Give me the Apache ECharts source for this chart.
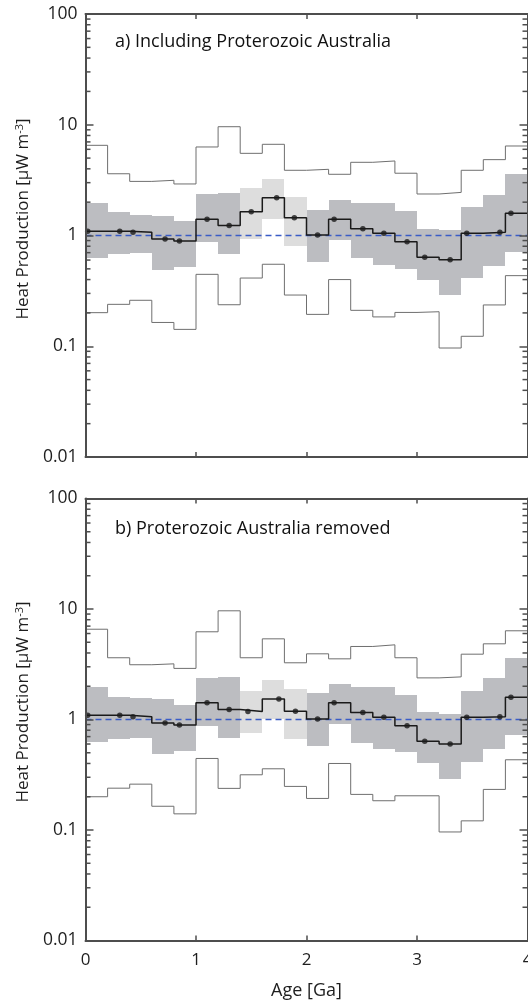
<!DOCTYPE html>
<html>
<head>
<meta charset="utf-8">
<script src="https://cdn.jsdelivr.net/npm/echarts@6/dist/echarts.min.js"></script>
<style>
  html, body { margin: 0; padding: 0; background: #fff; }
  #chart { width: 528px; height: 1005px; }
</style>
</head>
<body>
<div id="chart"></div>
<script>
// Age bins (Ga) shared by both panels
const binEdges = [0.0, 0.2, 0.4, 0.6, 0.8, 1.0, 1.2, 1.4, 1.6, 1.8, 2.0,
                  2.2, 2.4, 2.6, 2.8, 3.0, 3.2, 3.4, 3.6, 3.8, 4.0];

// Bins whose spread is shaded in the lighter grey
const lightBins = [0, 0, 0, 0, 0, 0, 0, 1, 1, 1, 0, 0, 0, 0, 0, 0, 0, 0, 0, 0];

// Panel a) Including Proterozoic Australia
const medianAgeA = [0.02, 0.31, 0.43, 0.72, 0.85, 1.10, 1.30, 1.50, 1.73, 1.89,
                    2.10, 2.25, 2.51, 2.70, 2.91, 3.07, 3.30, 3.45, 3.75, 3.85];
const medianA = [1.09, 1.09, 1.07, 0.93, 0.89, 1.40, 1.23, 1.64, 2.19, 1.45,
                 1.01, 1.40, 1.15, 1.05, 0.88, 0.635, 0.605, 1.05, 1.07, 1.59];
const q75A = [1.98, 1.62, 1.53, 1.51, 1.34, 2.36, 2.40, 2.67, 3.24, 2.23,
              1.70, 2.09, 1.97, 1.97, 1.65, 1.15, 1.11, 1.81, 2.32, 3.61];
const q25A = [0.626, 0.676, 0.69, 0.49, 0.52, 0.87, 0.685, 0.935, 1.41, 0.81,
              0.58, 0.91, 0.62, 0.54, 0.50, 0.40, 0.288, 0.413, 0.534, 0.71];
const upperA = [6.52, 3.61, 3.08, 3.15, 2.92, 6.30, 9.6, 5.52, 6.66, 3.88,
                3.96, 3.57, 4.58, 4.71, 3.65, 2.37, 2.45, 3.88, 4.84, 6.43];
const lowerA = [0.201, 0.239, 0.26, 0.164, 0.142, 0.446, 0.237, 0.413, 0.55, 0.29,
                0.194, 0.40, 0.211, 0.184, 0.202, 0.205, 0.0964, 0.123, 0.236, 0.434];

// Panel b) Proterozoic Australia removed
const medianAgeB = [0.02, 0.31, 0.43, 0.72, 0.85, 1.10, 1.30, 1.47, 1.75, 1.90,
                    2.10, 2.25, 2.51, 2.70, 2.91, 3.07, 3.30, 3.45, 3.75, 3.85];
const medianB = [1.09, 1.09, 1.06, 0.93, 0.89, 1.42, 1.23, 1.18, 1.53, 1.19,
                 1.01, 1.42, 1.16, 1.05, 0.88, 0.637, 0.60, 1.05, 1.06, 1.59];
const q75B = [1.98, 1.61, 1.55, 1.52, 1.34, 2.35, 2.40, 1.80, 2.27, 1.88,
              1.72, 2.10, 1.96, 1.96, 1.65, 1.16, 1.11, 1.82, 2.35, 3.62];
const q25B = [0.628, 0.668, 0.687, 0.489, 0.524, 0.87, 0.687, 0.752, 1.01, 0.664,
              0.574, 0.907, 0.615, 0.539, 0.503, 0.40, 0.288, 0.411, 0.539, 0.717];
const upperB = [6.56, 3.62, 3.13, 3.19, 2.90, 6.22, 9.63, 3.62, 5.37, 3.26,
                3.93, 3.54, 4.58, 4.74, 3.62, 2.38, 2.43, 3.90, 4.84, 6.35];
const lowerB = [0.20, 0.239, 0.26, 0.164, 0.14, 0.444, 0.238, 0.316, 0.358, 0.248,
                0.193, 0.40, 0.21, 0.184, 0.204, 0.204, 0.096, 0.121, 0.233, 0.432];

// Axis ticks
const xTicks = [0, 1, 2, 3, 4];
const yMin = 0.01, yMax = 100;
const referenceLevel = 1;

const FONT = '"Open Sans", "Noto Sans", sans-serif';
const AXIS_COLOR = '#4d4d4d';
const TEXT_COLOR = '#1e1e1e';
const DARK_BAND = '#bcbdc1';
const LIGHT_BAND = '#dddddd';
const THIN_LINE = '#6f6f6f';
const DASH_BLUE = '#3a5cc6';

// log minor ticks (2..9 in each decade)
const minorTickValues = [];
for (let e = -2; e < 2; e++) {
  for (let m = 2; m <= 9; m++) minorTickValues.push([0, m * Math.pow(10, e)]);
}

function stepData(values) {
  const pts = values.map((v, i) => [binEdges[i], v]);
  pts.push([binEdges[binEdges.length - 1], values[values.length - 1]]);
  return pts;
}

function buildPanel(idx, d) {
  const axisBase = {
    min: 0, max: 4, interval: 1, gridIndex: idx, z: 10,
    axisLine: { show: true, onZero: false, lineStyle: { color: AXIS_COLOR, width: 2 } },
    axisTick: { show: true, inside: true, length: 5, lineStyle: { color: AXIS_COLOR, width: 1.5 } },
    splitLine: { show: false }
  };
  const xAxes = [
    Object.assign({}, axisBase, {
      type: 'value', position: 'bottom',
      axisLabel: {
        show: idx === 1, margin: 11, fontFamily: FONT, fontSize: 17, color: TEXT_COLOR,
        customValues: xTicks
      },
      name: idx === 1 ? 'Age [Ga]' : '',
      nameLocation: 'middle', nameGap: 41,
      nameTextStyle: { fontFamily: FONT, fontSize: 18, color: TEXT_COLOR }
    }),
    Object.assign({}, axisBase, {
      type: 'value', position: 'top', axisLabel: { show: false }
    })
  ];
  const yBase = {
    type: 'log', logBase: 10, min: yMin, max: yMax, gridIndex: idx, z: 10,
    axisLine: { show: true, onZero: false, lineStyle: { color: AXIS_COLOR, width: 2 } },
    axisTick: { show: true, inside: true, length: 8, lineStyle: { color: AXIS_COLOR, width: 1.5 } },
    splitLine: { show: false }
  };
  const yAxes = [
    Object.assign({}, yBase, {
      position: 'left',
      axisLabel: {
        show: true, margin: 8, fontFamily: FONT, fontSize: 17.5, color: TEXT_COLOR,
        formatter: v => (v >= 1 ? String(Math.round(v)) : String(+v.toPrecision(1)))
      }
    }),
    Object.assign({}, yBase, { position: 'right', axisLabel: { show: false } })
  ];

  const xi = idx * 2, yi = idx * 2;
  const bandData = d.q25.map((lo, i) => [binEdges[i], binEdges[i + 1], lo, d.q75[i], lightBins[i]]);

  const series = [
    {
      // interquartile band, one block per age bin
      type: 'custom', xAxisIndex: xi, yAxisIndex: yi, z: 1, silent: true,
      encode: { x: [0, 1], y: [2, 3] },
      data: bandData,
      renderItem: (params, api) => {
        const a = api.coord([api.value(0), api.value(3)]);
        const b = api.coord([api.value(1), api.value(2)]);
        const x0 = Math.round(a[0]), x1 = Math.round(b[0]);
        const y0 = Math.round(a[1]), y1 = Math.round(b[1]);
        return {
          type: 'rect',
          shape: { x: x0, y: y0, width: x1 - x0, height: y1 - y0 },
          style: { fill: api.value(4) ? LIGHT_BAND : DARK_BAND, stroke: null }
        };
      }
    },
    {
      type: 'line', xAxisIndex: xi, yAxisIndex: yi, z: 2, step: 'end',
      showSymbol: false, silent: true, data: stepData(d.upper),
      lineStyle: { color: THIN_LINE, width: 1 }
    },
    {
      type: 'line', xAxisIndex: xi, yAxisIndex: yi, z: 2, step: 'end',
      showSymbol: false, silent: true, data: stepData(d.lower),
      lineStyle: { color: THIN_LINE, width: 1 }
    },
    {
      type: 'line', xAxisIndex: xi, yAxisIndex: yi, z: 3,
      showSymbol: false, silent: true,
      data: [[binEdges[0], referenceLevel], [binEdges[binEdges.length - 1], referenceLevel]],
      lineStyle: { color: DASH_BLUE, width: 1.5, type: [6, 4] }
    },
    {
      type: 'line', xAxisIndex: xi, yAxisIndex: yi, z: 4, step: 'end',
      showSymbol: false, silent: true, data: stepData(d.median),
      lineStyle: { color: '#1a1a1a', width: 1.5 }
    },
    {
      type: 'scatter', xAxisIndex: xi, yAxisIndex: yi, z: 5, silent: true,
      symbol: 'circle', symbolSize: 5.5,
      data: d.median.map((v, i) => [d.age[i], v]),
      itemStyle: { color: '#1a1a1a' }
    },
    {
      // minor log ticks on left and right frame edges
      type: 'custom', xAxisIndex: xi, yAxisIndex: yi, z: 11, silent: true,
      encode: { x: 0, y: 1 },
      data: minorTickValues,
      clip: false,
      renderItem: (params, api) => {
        const v = api.value(1);
        const l = api.coord([0, v]);
        const r = api.coord([4, v]);
        const st = { stroke: AXIS_COLOR, lineWidth: 1.5 };
        return {
          type: 'group',
          children: [
            { type: 'line', shape: { x1: l[0], y1: l[1], x2: l[0] + 5, y2: l[1] }, style: st },
            { type: 'line', shape: { x1: r[0], y1: r[1], x2: r[0] - 5, y2: r[1] }, style: st }
          ]
        };
      }
    }
  ];
  return { xAxes, yAxes, series };
}

const pa = buildPanel(0, { age: medianAgeA, median: medianA, q25: q25A, q75: q75A, upper: upperA, lower: lowerA });
const pb = buildPanel(1, { age: medianAgeB, median: medianB, q25: q25B, q75: q75B, upper: upperB, lower: lowerB });

const titleRich = {
  sup: { fontFamily: FONT, fontSize: 11, verticalAlign: 'top', lineHeight: 11, fill: TEXT_COLOR, color: TEXT_COLOR },
  m: { fontFamily: FONT, fontSize: 17, verticalAlign: 'bottom', lineHeight: 17, padding: [4, 0, 0, 0], fill: TEXT_COLOR, color: TEXT_COLOR }
};
function yTitle(cy) {
  return {
    type: 'text', x: 23, y: cy, rotation: Math.PI / 2, z: 20,
    style: {
      text: '{m|Heat Production [µW m}{sup|-3}{m|]}',
      rich: titleRich,
      align: 'center', verticalAlign: 'middle',
      fill: TEXT_COLOR
    }
  };
}
function panelLabel(text, y) {
  return {
    type: 'text', x: 115, y: y, z: 20,
    style: {
      text: text, fontFamily: FONT, fontSize: 18, fill: '#111',
      align: 'left', verticalAlign: 'middle'
    }
  };
}

const chart = echarts.init(document.getElementById('chart'), null, { renderer: 'canvas' });
chart.setOption({
  animation: false,
  backgroundColor: '#ffffff',
  grid: [
    { left: 85.5, top: 14, width: 442, height: 443, outerBoundsMode: 'none', containLabel: false },
    { left: 85.5, top: 498.5, width: 442, height: 442, outerBoundsMode: 'none', containLabel: false }
  ],
  xAxis: pa.xAxes.concat(pb.xAxes),
  yAxis: pa.yAxes.concat(pb.yAxes),
  series: pa.series.concat(pb.series),
  graphic: [
    yTitle(219),
    yTitle(702),
    panelLabel('a) Including Proterozoic Australia', 42),
    panelLabel('b) Proterozoic Australia removed', 529)
  ]
});
</script>
</body>
</html>
